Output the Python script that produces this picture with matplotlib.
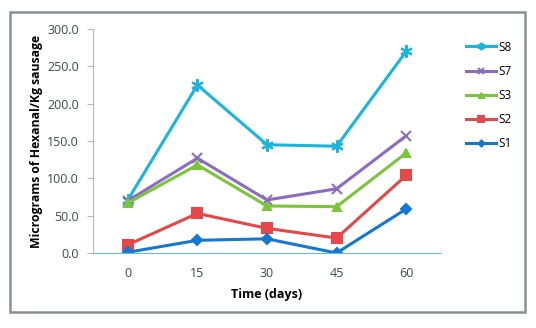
import matplotlib
matplotlib.use("Agg")
import matplotlib.pyplot as plt
from matplotlib.patches import Rectangle

days = ["0", "15", "30", "45", "60"]
series_names = ["S8", "S7", "S3", "S2", "S1"]
s8 = [71, 225, 145, 143, 270]
s7 = [70, 127, 71, 86, 157]
s3 = [67, 118, 63, 62, 134]
s2 = [11, 53, 33, 20, 104]
s1 = [1, 17, 19, 0, 59]
yticks = [0, 50, 100, 150, 200, 250, 300]

plt.rcParams['font.family'] = ['Open Sans', 'DejaVu Sans']

fig = plt.figure(figsize=(5.36, 3.28), dpi=100)
fig.patches.append(Rectangle((10/536, 1-312/328), 515/536, 300/328, transform=fig.transFigure,
                             fill=False, edgecolor='#8a9090', linewidth=1.8))
ax = fig.add_axes([93/536, 1-253/328, 348/536, 224/328])

x = list(range(len(days)))
styles = [
    (s8, '#1ab4dc', (6, 2, 0), 9),
    (s7, '#8a6cc0', 'x', 7),
    (s3, '#7cc43c', '^', 6),
    (s2, '#e44848', 's', 7),
    (s1, '#1478d0', 'D', 5),
]
for name, (vals, col, mk, ms) in zip(series_names, styles):
    ax.plot(x, vals, color=col, marker=mk, markersize=ms, linewidth=2.2,
            markeredgewidth=1.5, label=name)

ax.set_xlim(-0.5, 4.5)
ax.set_ylim(0, 300)
ax.set_xticks(x)
ax.set_xticklabels(days)
ax.set_yticks(yticks)
ax.set_yticklabels([f"{v:.1f}" for v in yticks])
for sp in ['top', 'right']:
    ax.spines[sp].set_visible(False)
ax.spines['left'].set_color('#b8b8b8')
ax.spines['bottom'].set_color('#6ab8e0')
ax.tick_params(axis='x', length=0, pad=10, labelsize=9, colors='#404850')
ax.tick_params(axis='y', length=4, color='#b8b8b8', pad=6, labelsize=9, labelcolor='#404850')
ax.set_xlabel("Time (days)", fontsize=9, fontweight='bold', labelpad=6)
ax.set_ylabel("Micrograms of Hexanal/Kg sausage", fontsize=8.8, fontweight='bold', labelpad=3)

leg = ax.legend(loc='upper left', bbox_to_anchor=(455/536, 1-30/328), bbox_transform=fig.transFigure,
                frameon=False, fontsize=8.5, labelspacing=0.95, handlelength=2.6, handletextpad=0.2,
                markerscale=0.6)

fig.savefig("out.png", dpi=100)
